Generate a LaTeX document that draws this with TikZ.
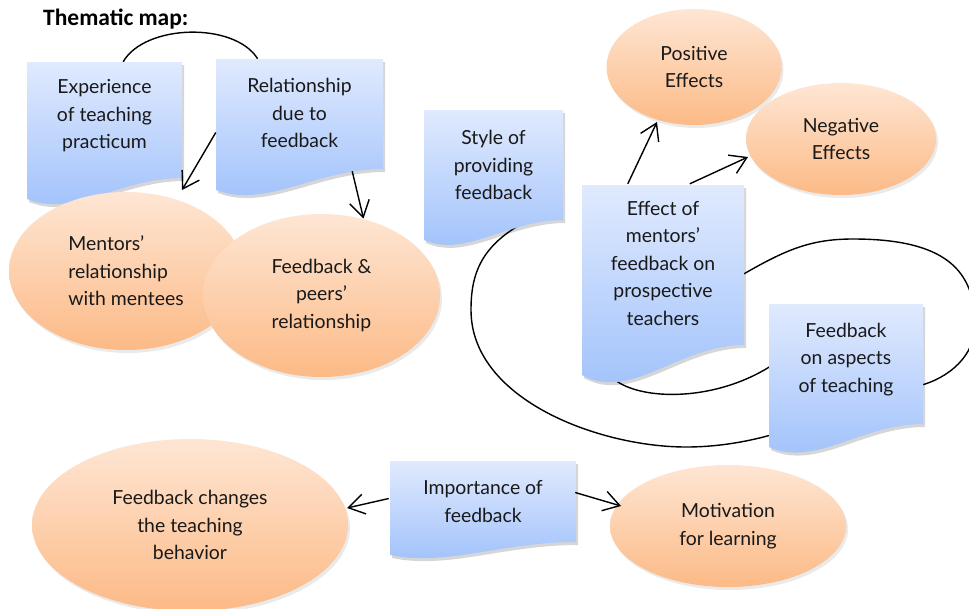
\documentclass[tikz,border=0pt]{standalone}
\usepackage{fontspec}
\setmainfont{Lato}
\newfontfamily\titlefont{Carlito}
\usetikzlibrary{shapes.geometric,arrows.meta,calc,shadows}
\definecolor{bluetop}{RGB}{224,234,254}
\definecolor{bluebot}{RGB}{158,192,251}
\definecolor{orgtop}{RGB}{254,230,212}
\definecolor{orgbot}{RGB}{252,186,134}
\pgfdeclarelayer{bg}
\pgfsetlayers{bg,main}
% #1 name, #2 left, #3 top, #4 right, #5 left-bottom, #6 right-bottom, #7 text y offset, #8 text
\newcommand\docbox[8]{%
  \pgfmathsetmacro\dw{#4-#2}%
  \pgfmathsetmacro\dh{#6-#3}%
  \pgfmathsetmacro\dd{#5-#6}%
  \pgfmathsetmacro\cax{#2+0.6*\dw}%
  \pgfmathsetmacro\cbx{#2+0.3*\dw}%
  \pgfmathsetmacro\cby{#5+0.9*\dd}%
  \fill[black,opacity=0.16,xshift=2pt,yshift=-3pt] (#2,#3) -- (#4,#3) -- (#4,#6) .. controls (\cax,#6) and (\cbx,\cby) .. (#2,#5) -- cycle;
  \shade[top color=bluetop,bottom color=bluebot] (#2,#3) -- (#4,#3) -- (#4,#6) .. controls (\cax,#6) and (\cbx,\cby) .. (#2,#5) -- cycle;
  \node[docnode,minimum width=\dw pt,minimum height=\dh pt] (#1) at ({(#2+#4)/2},{(#3+#6)/2}) {};
  \node[txt] (#1txt) at ($(#1.center)+(0,#7)$) {#8};
}
\begin{document}
\begin{tikzpicture}[x=1pt,y=-1pt,
  txt/.style={font=\fontsize{19.4}{27.5}\selectfont, align=center, text=black!90, inner sep=0pt},
  docnode/.style={inner sep=0pt, rectangle},
  oval/.style={txt, ellipse, inner sep=0pt, top color=orgtop, bottom color=orgbot,
    drop shadow={opacity=0.16, shadow xshift=2pt, shadow yshift=-3pt}},
  link/.style={line width=1.4pt, black},
  arr/.style={line width=1.4pt, black, -{Straight Barb[length=16pt,width=20pt,line width=1.4pt]}},
  ]
\useasboundingbox (0,0) rectangle (969,608);

\node[anchor=base west, inner sep=0pt, font=\titlefont\bfseries\fontsize{23.5}{28}\selectfont] (title) at (43,25) {Thematic map:};

\docbox{exp}{27}{62}{182}{199}{178}{-4}{Experience\\of teaching\\practicum}
\docbox{rel}{216}{59}{383}{190}{169}{-1}{Relationship\\due to\\feedback}
\docbox{style}{424}{110}{563}{240}{220}{0}{Style of\\providing\\feedback}

\node[oval, minimum width=234pt, minimum height=158pt, align=left] (mentors) at (126,271) {Mentors’\\relationship\\with mentees};
\node[oval, minimum width=237pt, minimum height=163pt] (peers) at (321.5,295.5) {Feedback \&\\peers’\\relationship};

\node[oval, minimum width=175pt, minimum height=116pt] (pos) at (694,67) {Positive\\Effects};
\node[oval, minimum width=190pt, minimum height=112pt] (neg) at (841,139) {Negative\\Effects};

\docbox{effect}{582}{185}{744}{375}{345}{-2}{Effect of\\mentors’\\feedback on\\prospective\\teachers}
\docbox{aspects}{769}{304}{923}{447}{424}{-4.5}{Feedback\\on aspects\\of teaching}

\node[oval, minimum width=316pt, minimum height=172pt] (fcb) at (190,525) {Feedback changes\\the teaching\\behavior};
\docbox{imp}{390}{461}{576}{555}{542}{0}{Importance of\\feedback}
\node[oval, minimum width=236pt, minimum height=122pt] (mot) at (728,526) {Motivation\\for learning};

\begin{pgfonlayer}{bg}
  \fill[white] (0,0) rectangle (969,608);
  % arc between top boxes
  \draw[link] ($(exp.north west)!0.62!(exp.north east)$) .. controls +(22,-38) and +(-23,-37) .. ($(rel.north west)!0.25!(rel.north east)$);
  % big loop from style box to aspects box
  \draw[link] ($(style.south west)!0.75!(style.south east)$) .. controls (480,245) and (471,275) .. (471,310)
     .. controls (471,400) and (600,447) .. (686,447) .. controls (720,447) and (750,441) .. ($(aspects.south west)+(5,10)$);
  % upper right loop from effect box to aspects box
  \draw[link] ($(effect.east)+(-4,11)$) .. controls (785,250) and (810,239) .. (853,239)
     .. controls (945,239) and (975,270) .. (975,325) .. controls (975,355) and (950,378) .. ($(aspects.east)+(-5,22)$);
  % lower loop from effect box to aspects box
  \draw[link] ($(effect.south west)+(31,33)$) .. controls (640,402) and (720,402) .. ($(aspects.west)+(8,-2)$);
\end{pgfonlayer}

\draw[arr] ($(rel.north west)!0.667!(rel.south west)$) -- ($(mentors.center)+(56,-81)$);
\draw[arr] ($(rel.south east)+(-31,2)$) -- ($(peers.center)+(42,-77)$);
\draw[arr] ($(effect.north west)+(46,-1)$) -- ($(pos.center)+(-37,55)$);
\draw[arr] ($(effect.north west)+(108,-1)$) -- ($(neg.center)+(-93,18)$);
\draw[arr] ($(imp.west)+(-1,-3)$) -- ($(fcb.center)+(157,-17)$);
\draw[arr] ($(imp.east)+(-1,-9)$) -- ($(mot.center)+(-107,-20)$);
\end{tikzpicture}
\end{document}
